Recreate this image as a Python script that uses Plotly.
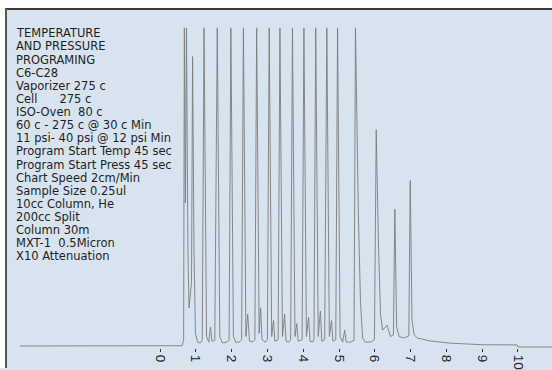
import plotly.graph_objects as go

# ---- data (time in minutes, signal in % of full scale) ----
time_min = [
    -3.91, 0.62,
    0.66, 0.68, 0.71, 0.74, 0.78, 0.81,
    0.88, 0.91, 0.95, 0.99, 1.05, 1.13, 1.18,
    1.23, 1.30, 1.36, 1.41, 1.45, 1.53,
    1.60, 1.67, 1.74, 1.86, 1.93,
    1.98, 2.05, 2.12, 2.22, 2.28,
    2.33, 2.40, 2.45, 2.50, 2.59, 2.65,
    2.70, 2.77, 2.81, 2.85, 2.94, 3.00,
    3.05, 3.12, 3.17, 3.21, 3.30,
    3.35, 3.42, 3.48, 3.52, 3.60, 3.65,
    3.70, 3.77, 3.82, 3.86, 3.97,
    4.02, 4.09, 4.15, 4.19, 4.27, 4.30,
    4.35, 4.42, 4.48, 4.52, 4.60,
    4.66, 4.73, 4.79, 4.83, 4.91,
    4.96, 5.03, 5.10, 5.16, 5.20, 5.32, 5.42,
    5.46, 5.50, 5.54, 5.60, 5.66, 5.74, 5.90, 5.99,
    6.04, 6.10, 6.16, 6.22, 6.34, 6.44, 6.52, 6.56, 6.61, 6.68,
    6.82, 6.95, 6.99, 7.04, 7.10, 7.19, 7.54, 8.10, 9.02, 9.97,
    10.00, 10.95,
]
signal_pct = [
    0.0, 0.1,
    2.0, 100, 45, 100, 30, 12,
    20, 91, 30, 4, 1.2, 1.0, 1.8,
    100, 3, 1.2, 6, 1.5, 1.8,
    100, 3, 1.0, 1.2, 1.8,
    100, 3, 1.1, 1.3, 2.0,
    100, 3, 10, 1.5, 1.3, 2.0,
    100, 4, 12, 2, 1.2, 2.0,
    100, 3, 8, 1.5, 2.0,
    100, 3, 10, 1.5, 1.2, 2.0,
    100, 3, 7, 1.5, 2.0,
    100, 3, 9, 1.5, 1.3, 2.0,
    100, 3, 11, 1.5, 2.0,
    100, 3, 8, 1.5, 2.0,
    100, 3, 1.2, 5, 1.3, 1.2, 1.8,
    100, 62, 42, 14, 2.5, 1.2, 1.3, 2.0,
    68, 33, 10, 5, 6.5, 3, 3.5, 43, 6, 3,
    2.5, 3.2, 52, 8, 3.5, 2.5, 1.6, 0.9, 0.4, 0.35,
    -0.3, -0.3,
]
tick_values = [0, 1, 2, 3, 4, 5, 6, 7, 8, 9, 10]
tick_labels = ["0", "1", "2", "3", "4", "5", "6", "7", "8", "9", "10"]
notes = [
    "TEMPERATURE",
    "AND PRESSURE",
    "PROGRAMING",
    "C6-C28",
    "Vaporizer 275 c",
    "Cell      275 c",
    "ISO-Oven  80 c",
    "60 c - 275 c @ 30 c Min",
    "11 psi- 40 psi @ 12 psi Min",
    "Program Start Temp 45 sec",
    "Program Start Press 45 sec",
    "Chart Speed 2cm/Min",
    "Sample Size 0.25ul",
    "10cc Column, He",
    "200cc Split",
    "Column 30m",
    "MXT-1  0.5Micron",
    "X10 Attenuation",
]

# ---- layout geometry (pixels) ----
W, H = 552, 370
L, R, T, B = 7, 0, 10, 20
PW, PH = W - L - R, H - T - B
BLUE = "#d8e3f0"
FONT = "DejaVu Sans, Arial, sans-serif"
TICKFONT = "Liberation Sans, Arial, sans-serif"


def px(x):
    return (x - L) / PW


def py(y):
    return (H - B - y) / PH


fig = go.Figure()
fig.add_trace(go.Scatter(
    x=time_min, y=signal_pct, mode="lines",
    line=dict(color="#7c7c7c", width=0.9),
    hoverinfo="skip", showlegend=False,
))

shapes = [
    # white page outside the frame
    dict(type="rect", xref="paper", yref="paper", x0=px(0), x1=px(5), y0=py(H), y1=py(0),
         fillcolor="white", line=dict(width=0), layer="above"),
    dict(type="rect", xref="paper", yref="paper", x0=px(0), x1=px(W), y0=py(8), y1=py(0),
         fillcolor="white", line=dict(width=0), layer="above"),
    # dark frame lines (top and left)
    dict(type="line", xref="paper", yref="paper", x0=px(5), x1=px(W), y0=py(9), y1=py(9),
         line=dict(color="#3a3a3a", width=2), layer="above"),
    dict(type="line", xref="paper", yref="paper", x0=px(6), x1=px(6), y0=py(8), y1=py(H),
         line=dict(color="#555555", width=2), layer="above"),
]

annotations = []
for i, t in enumerate(notes):
    annotations.append(dict(
        text=t, xref="paper", yref="paper", x=px(14), y=py(33.5 + 13.2 * i),
        xanchor="left", yanchor="middle", showarrow=False,
        font=dict(family=FONT, size=11.5, color="#1e1e1e"),
    ))

fig.update_layout(
    width=W, height=H,
    margin=dict(l=L, r=R, t=T, b=B, pad=0),
    paper_bgcolor=BLUE, plot_bgcolor=BLUE,
    shapes=shapes, annotations=annotations,
    xaxis=dict(
        range=[-4.274, 10.95], showgrid=False, zeroline=False, showline=False,
        tickmode="array", tickvals=tick_values, ticktext=tick_labels,
        tickangle=90, ticks="outside", ticklen=3, tickcolor="#333333",
        tickfont=dict(family=TICKFONT, size=13.5, color="#222222"),
    ),
    yaxis=dict(
        range=[-0.625, 105.625], showgrid=False, zeroline=False, showline=False,
        showticklabels=False, ticks="",
    ),
)

fig.write_html("out.html")
